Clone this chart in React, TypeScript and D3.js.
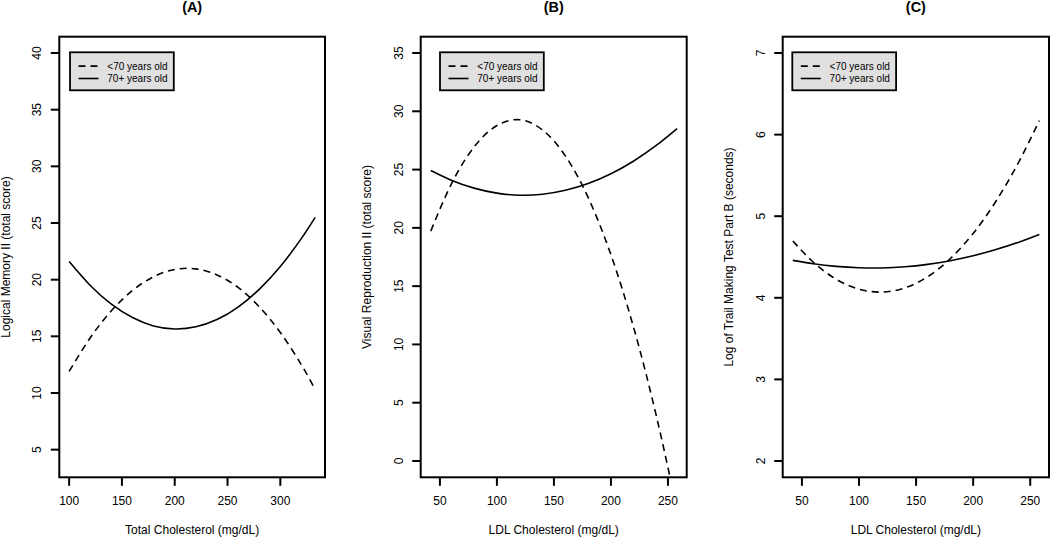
import React from "react";
import * as d3 from "d3";

// ---- Data ----
const xA = [100, 120, 140, 160, 180, 200, 220, 240, 260, 280, 300, 320, 333];
const youngA = [11.9, 14.87, 17.25, 19.05, 20.26, 20.9, 20.95, 20.42, 19.31, 17.61, 15.34, 12.48, 10.31];
const oldA = [21.6, 19.49, 17.85, 16.66, 15.92, 15.65, 15.84, 16.48, 17.58, 19.15, 21.16, 23.64, 25.5];

const xB = [42, 60, 80, 100, 120, 140, 160, 180, 200, 220, 240, 258];
const youngB = [19.72, 23.75, 26.94, 28.78, 29.27, 28.4, 26.18, 22.61, 17.69, 11.42, 3.79, -4.22];
const oldB = [24.92, 24.09, 23.41, 22.98, 22.8, 22.88, 23.22, 23.8, 24.64, 25.74, 27.09, 28.52];

const xC = [42, 60, 80, 100, 120, 140, 160, 180, 200, 220, 240, 258];
const youngC = [4.697, 4.436, 4.228, 4.106, 4.07, 4.121, 4.257, 4.48, 4.789, 5.184, 5.665, 6.172];
const oldC = [4.459, 4.417, 4.385, 4.368, 4.366, 4.38, 4.41, 4.455, 4.515, 4.591, 4.682, 4.777];

const ticksXA = [100, 150, 200, 250, 300];
const ticksYA = [5, 10, 15, 20, 25, 30, 35, 40];
const ticksXB = [50, 100, 150, 200, 250];
const ticksYB = [0, 5, 10, 15, 20, 25, 30, 35];
const ticksXC = [50, 100, 150, 200, 250];
const ticksYC = [2, 3, 4, 5, 6, 7];

const legendLabels = ["<70 years old", "70+ years old"];
const titles = ["(A)", "(B)", "(C)"];
const xLabels = ["Total Cholesterol (mg/dL)", "LDL Cholesterol (mg/dL)", "LDL Cholesterol (mg/dL)"];
const yLabels = [
  "Logical Memory II (total score)",
  "Visual Reproduction II (total score)",
  "Log of Trail Making Test Part B (seconds)",
];

// ---- Layout ----
const W = 1050;
const H = 539;
const TOP = 36.7;
const BOTTOM = 477.3;
const FONT = "'Liberation Sans', Arial, Helvetica, sans-serif";

type Panel = {
  left: number;
  right: number;
  xDomain: [number, number];
  yDomain: [number, number];
  xs: number[];
  young: number[];
  old: number[];
  xTicks: number[];
  yTicks: number[];
  legendOffset: number;
};

const pad = (a: number, b: number): [number, number] => {
  const r = b - a;
  return [a - 0.04 * r, b + 0.04 * r];
};

const panels: Panel[] = [
  { left: 59.3, right: 325, xDomain: pad(100, 333), yDomain: pad(4, 40), xs: xA, young: youngA, old: oldA, xTicks: ticksXA, yTicks: ticksYA, legendOffset: 10.7 },
  { left: 420.7, right: 686.7, xDomain: pad(41.8, 257.8), yDomain: pad(0, 35), xs: xB, young: youngB, old: oldB, xTicks: ticksXB, yTicks: ticksYB, legendOffset: 19.3 },
  { left: 782.7, right: 1049, xDomain: pad(41.8, 257.8), yDomain: pad(2, 7), xs: xC, young: youngC, old: oldC, xTicks: ticksXC, yTicks: ticksYC, legendOffset: 9.6 },
];

const DASH = "7,5";

function PanelView({ p, i }: { p: Panel; i: number }) {
  const x = d3.scaleLinear().domain(p.xDomain).range([p.left, p.right]);
  const y = d3.scaleLinear().domain(p.yDomain).range([BOTTOM, TOP]);
  const line = d3
    .line<[number, number]>()
    .x((d) => x(d[0]))
    .y((d) => y(d[1]))
    .curve(d3.curveNatural);
  const young = line(p.xs.map((v, k) => [v, p.young[k]] as [number, number])) || "";
  const old = line(p.xs.map((v, k) => [v, p.old[k]] as [number, number])) || "";
  const cx = (p.left + p.right) / 2;
  const cy = (TOP + BOTTOM) / 2;
  const clipId = `clip-${i}`;
  const lx = p.left + p.legendOffset;
  const ly = 52.3;
  return (
    <g>
      <defs>
        <clipPath id={clipId}>
          <rect x={p.left} y={TOP} width={p.right - p.left} height={BOTTOM - TOP} />
        </clipPath>
      </defs>
      <text x={cx} y={11.8} textAnchor="middle" fontFamily={FONT} fontWeight="bold" fontSize={14.4} fill="#000">
        {titles[i]}
      </text>
      <g clipPath={`url(#${clipId})`}>
        <path d={young} fill="none" stroke="#000" strokeWidth={1.6} strokeDasharray={DASH} />
        <path d={old} fill="none" stroke="#000" strokeWidth={1.6} />
      </g>
      <rect x={p.left} y={TOP} width={p.right - p.left} height={BOTTOM - TOP} fill="none" stroke="#000" strokeWidth={2} />
      {p.xTicks.map((t) => (
        <g key={`xt${t}`}>
          <line x1={x(t)} x2={x(t)} y1={BOTTOM} y2={BOTTOM + 8.5} stroke="#000" strokeWidth={2} />
          <text x={x(t)} y={BOTTOM + 28} textAnchor="middle" fontFamily={FONT} fontSize={12} fill="#000">
            {t}
          </text>
        </g>
      ))}
      {p.yTicks.map((t) => (
        <g key={`yt${t}`}>
          <line x1={p.left - 8.5} x2={p.left} y1={y(t)} y2={y(t)} stroke="#000" strokeWidth={2} />
          <text
            transform={`translate(${p.left - 18},${y(t)}) rotate(-90)`}
            textAnchor="middle"
            fontFamily={FONT}
            fontSize={12}
            fill="#000"
          >
            {t}
          </text>
        </g>
      ))}
      <text x={cx} y={BOTTOM + 57} textAnchor="middle" fontFamily={FONT} fontSize={12} fill="#000">
        {xLabels[i]}
      </text>
      <text
        transform={`translate(${p.left - 49.5},${cy}) rotate(-90)`}
        textAnchor="middle"
        fontFamily={FONT}
        fontSize={12}
        fill="#000"
      >
        {yLabels[i]}
      </text>
      <g>
        <rect x={lx} y={ly} width={103.8} height={38} fill="#e0e0e0" stroke="#000" strokeWidth={1.8} />
        {legendLabels.map((lab, k) => {
          const ry = ly + 13.8 + k * 12.4;
          return (
            <g key={lab}>
              <line
                x1={lx + 8.5}
                x2={lx + 28.5}
                y1={ry}
                y2={ry}
                stroke="#000"
                strokeWidth={1.6}
                strokeDasharray={k === 0 ? DASH : undefined}
              />
              <text x={lx + 37.3} y={ry + 3.6} fontFamily={FONT} fontSize={10} fill="#000">
                {lab}
              </text>
            </g>
          );
        })}
      </g>
    </g>
  );
}

export default function App() {
  return (
    <svg
      width={W}
      height={H}
      viewBox={`0 0 ${W} ${H}`}
      style={{ position: "absolute", left: 0, top: 0, background: "#fff", display: "block" }}
    >
      <rect x={0} y={0} width={W} height={H} fill="#fff" />
      {panels.map((p, i) => (
        <PanelView key={i} p={p} i={i} />
      ))}
    </svg>
  );
}
